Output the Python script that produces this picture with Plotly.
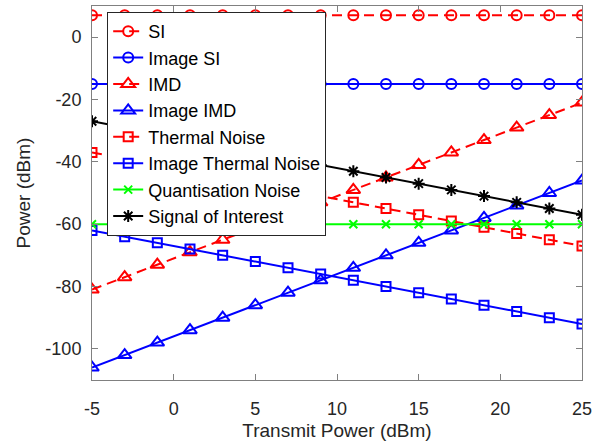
import plotly.graph_objects as go

x = [-5, -3, -1, 1, 3, 5, 7, 9, 11, 13, 15, 17, 19, 21, 23, 25]
si = [7, 7, 7, 7, 7, 7, 7, 7, 7, 7, 7, 7, 7, 7, 7, 7]
image_si = [-15, -15, -15, -15, -15, -15, -15, -15, -15, -15, -15, -15, -15, -15, -15, -15]
imd = [-81, -77, -73, -69, -65, -61, -57, -53, -49, -45, -41, -37, -33, -29, -25, -21]
image_imd = [-106, -102, -98, -94, -90, -86, -82, -78, -74, -70, -66, -62, -58, -54, -50, -46]
thermal = [-37, -39, -41, -43, -45, -47, -49, -51, -53, -55, -57, -59, -61, -63, -65, -67]
image_thermal = [-62, -64, -66, -68, -70, -72, -74, -76, -78, -80, -82, -84, -86, -88, -90, -92]
quant = [-60, -60, -60, -60, -60, -60, -60, -60, -60, -60, -60, -60, -60, -60, -60, -60]
soi = [-27, -29, -31, -33, -35, -37, -39, -41, -43, -45, -47, -49, -51, -53, -55, -57]

xticks = [-5, 0, 5, 10, 15, 20, 25]
yticks = [-100, -80, -60, -40, -20, 0]

series = [
    ("SI", si, "#ff0000", "10px,6px", "circle-open", 10),
    ("Image SI", image_si, "#0000ff", "solid", "circle-open", 10),
    ("IMD", imd, "#ff0000", "10px,6px", "triangle-up-open", 12),
    ("Image IMD", image_imd, "#0000ff", "solid", "triangle-up-open", 12),
    ("Thermal Noise", thermal, "#ff0000", "10px,6px", "square-open", 9),
    ("Image Thermal Noise", image_thermal, "#0000ff", "solid", "square-open", 9),
    ("Quantisation Noise", quant, "#00ff00", "solid", "x-thin-open", 8),
    ("Signal of Interest", soi, "#000000", "solid", "asterisk-open", 10),
]

fig = go.Figure()
for name, ys, col, dash, sym, sz in series:
    fig.add_trace(go.Scatter(
        x=x, y=ys, name=name, mode="lines+markers",
        line=dict(color=col, width=2, dash=dash),
        marker=dict(symbol=sym, size=sz, color=col, line=dict(color=col, width=2)),
    ))

font_fam = "Liberation Sans, Arial, Helvetica"
axis_common = dict(
    showline=True, linecolor="#808080", linewidth=1, mirror="ticks",
    ticks="inside", ticklen=6, tickcolor="#808080", showgrid=False, zeroline=False,
    tickfont=dict(family=font_fam, size=18, color="#262626"),
)

fig.update_layout(
    width=603, height=448,
    margin=dict(l=92, r=21, t=6, b=68),
    paper_bgcolor="white", plot_bgcolor="white",
    font=dict(family=font_fam, size=18, color="#000000"),
    xaxis=dict(range=[-5, 25], tickvals=xticks, ticktext=[str(v) for v in xticks],
               ticklabelstandoff=12,
               title=dict(text="Transmit Power (dBm)", font=dict(size=19, color="#262626"), standoff=6),
               **axis_common),
    yaxis=dict(range=[-110, 10], tickvals=yticks, ticktext=[str(v) for v in yticks],
               ticklabelstandoff=6,
               title=dict(text="Power (dBm)", font=dict(size=19, color="#262626"), standoff=9),
               **axis_common),
    legend=dict(x=0.031, y=0.984, xanchor="left", yanchor="top",
                bgcolor="white", bordercolor="#262626", borderwidth=1,
                font=dict(size=18, color="#000000"), tracegroupgap=0),
    showlegend=True,
)

fig.write_html("out.html")
